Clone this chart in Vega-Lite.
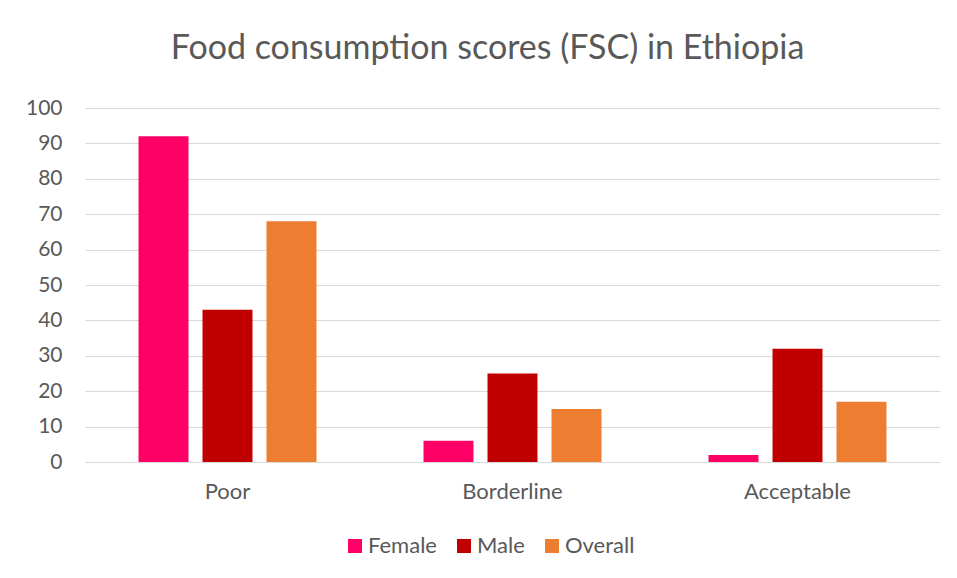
{
  "$schema": "https://vega.github.io/schema/vega-lite/v6.json",
  "width": 855,
  "height": 354,
  "autosize": "none",
  "padding": {"left": 85, "top": 108, "right": 17, "bottom": 116},
  "background": "white",
  "title": {
    "text": "Food consumption scores (FSC) in Ethiopia",
    "font": "Lato",
    "fontSize": 34,
    "fontWeight": "normal",
    "color": "#595959",
    "anchor": "middle",
    "dx": -25,
    "offset": 31
  },
  "data": {
    "values": [
      {"category": "Poor", "group": "Female", "value": 92},
      {"category": "Poor", "group": "Male", "value": 43},
      {"category": "Poor", "group": "Overall", "value": 68},
      {"category": "Borderline", "group": "Female", "value": 6},
      {"category": "Borderline", "group": "Male", "value": 25},
      {"category": "Borderline", "group": "Overall", "value": 15},
      {"category": "Acceptable", "group": "Female", "value": 2},
      {"category": "Acceptable", "group": "Male", "value": 32},
      {"category": "Acceptable", "group": "Overall", "value": 17}
    ]
  },
  "mark": {"type": "bar"},
  "encoding": {
    "x": {
      "field": "category",
      "type": "nominal",
      "sort": ["Poor", "Borderline", "Acceptable"],
      "scale": {"paddingInner": 0, "paddingOuter": 0},
      "axis": {
        "title": null,
        "labelAngle": 0,
        "labelFont": "Lato",
        "labelFontSize": 22,
        "labelColor": "#595959",
        "labelPadding": 19,
        "ticks": false,
        "domain": true,
        "domainColor": "#d9d9d9",
        "grid": false
      }
    },
    "xOffset": {
      "field": "group",
      "type": "nominal",
      "sort": ["Female", "Male", "Overall"],
      "scale": {"paddingInner": 0.219, "paddingOuter": 0.836}
    },
    "y": {
      "field": "value",
      "type": "quantitative",
      "scale": {"domain": [0, 100], "nice": false},
      "axis": {
        "title": null,
        "values": [0, 10, 20, 30, 40, 50, 60, 70, 80, 90, 100],
        "labelFont": "Lato",
        "labelFontSize": 21,
        "labelColor": "#595959",
        "labelPadding": 23,
        "ticks": false,
        "domain": false,
        "grid": true,
        "gridColor": "#d9d9d9",
        "gridWidth": 1
      }
    },
    "color": {
      "field": "group",
      "type": "nominal",
      "sort": ["Female", "Male", "Overall"],
      "scale": {
        "domain": ["Female", "Male", "Overall"],
        "range": ["#FF0066", "#C00000", "#ED7D31"]
      },
      "legend": {
        "title": null,
        "orient": "none",
        "direction": "horizontal",
        "legendX": 259,
        "legendY": 427,
        "symbolType": "square",
        "symbolSize": 196,
        "symbolStrokeWidth": 0,
        "labelFont": "Lato",
        "labelFontSize": 22,
        "labelColor": "#595959",
        "labelOffset": 2,
        "columnPadding": 16
      }
    }
  },
  "config": {
    "view": {"stroke": null}
  }
}
